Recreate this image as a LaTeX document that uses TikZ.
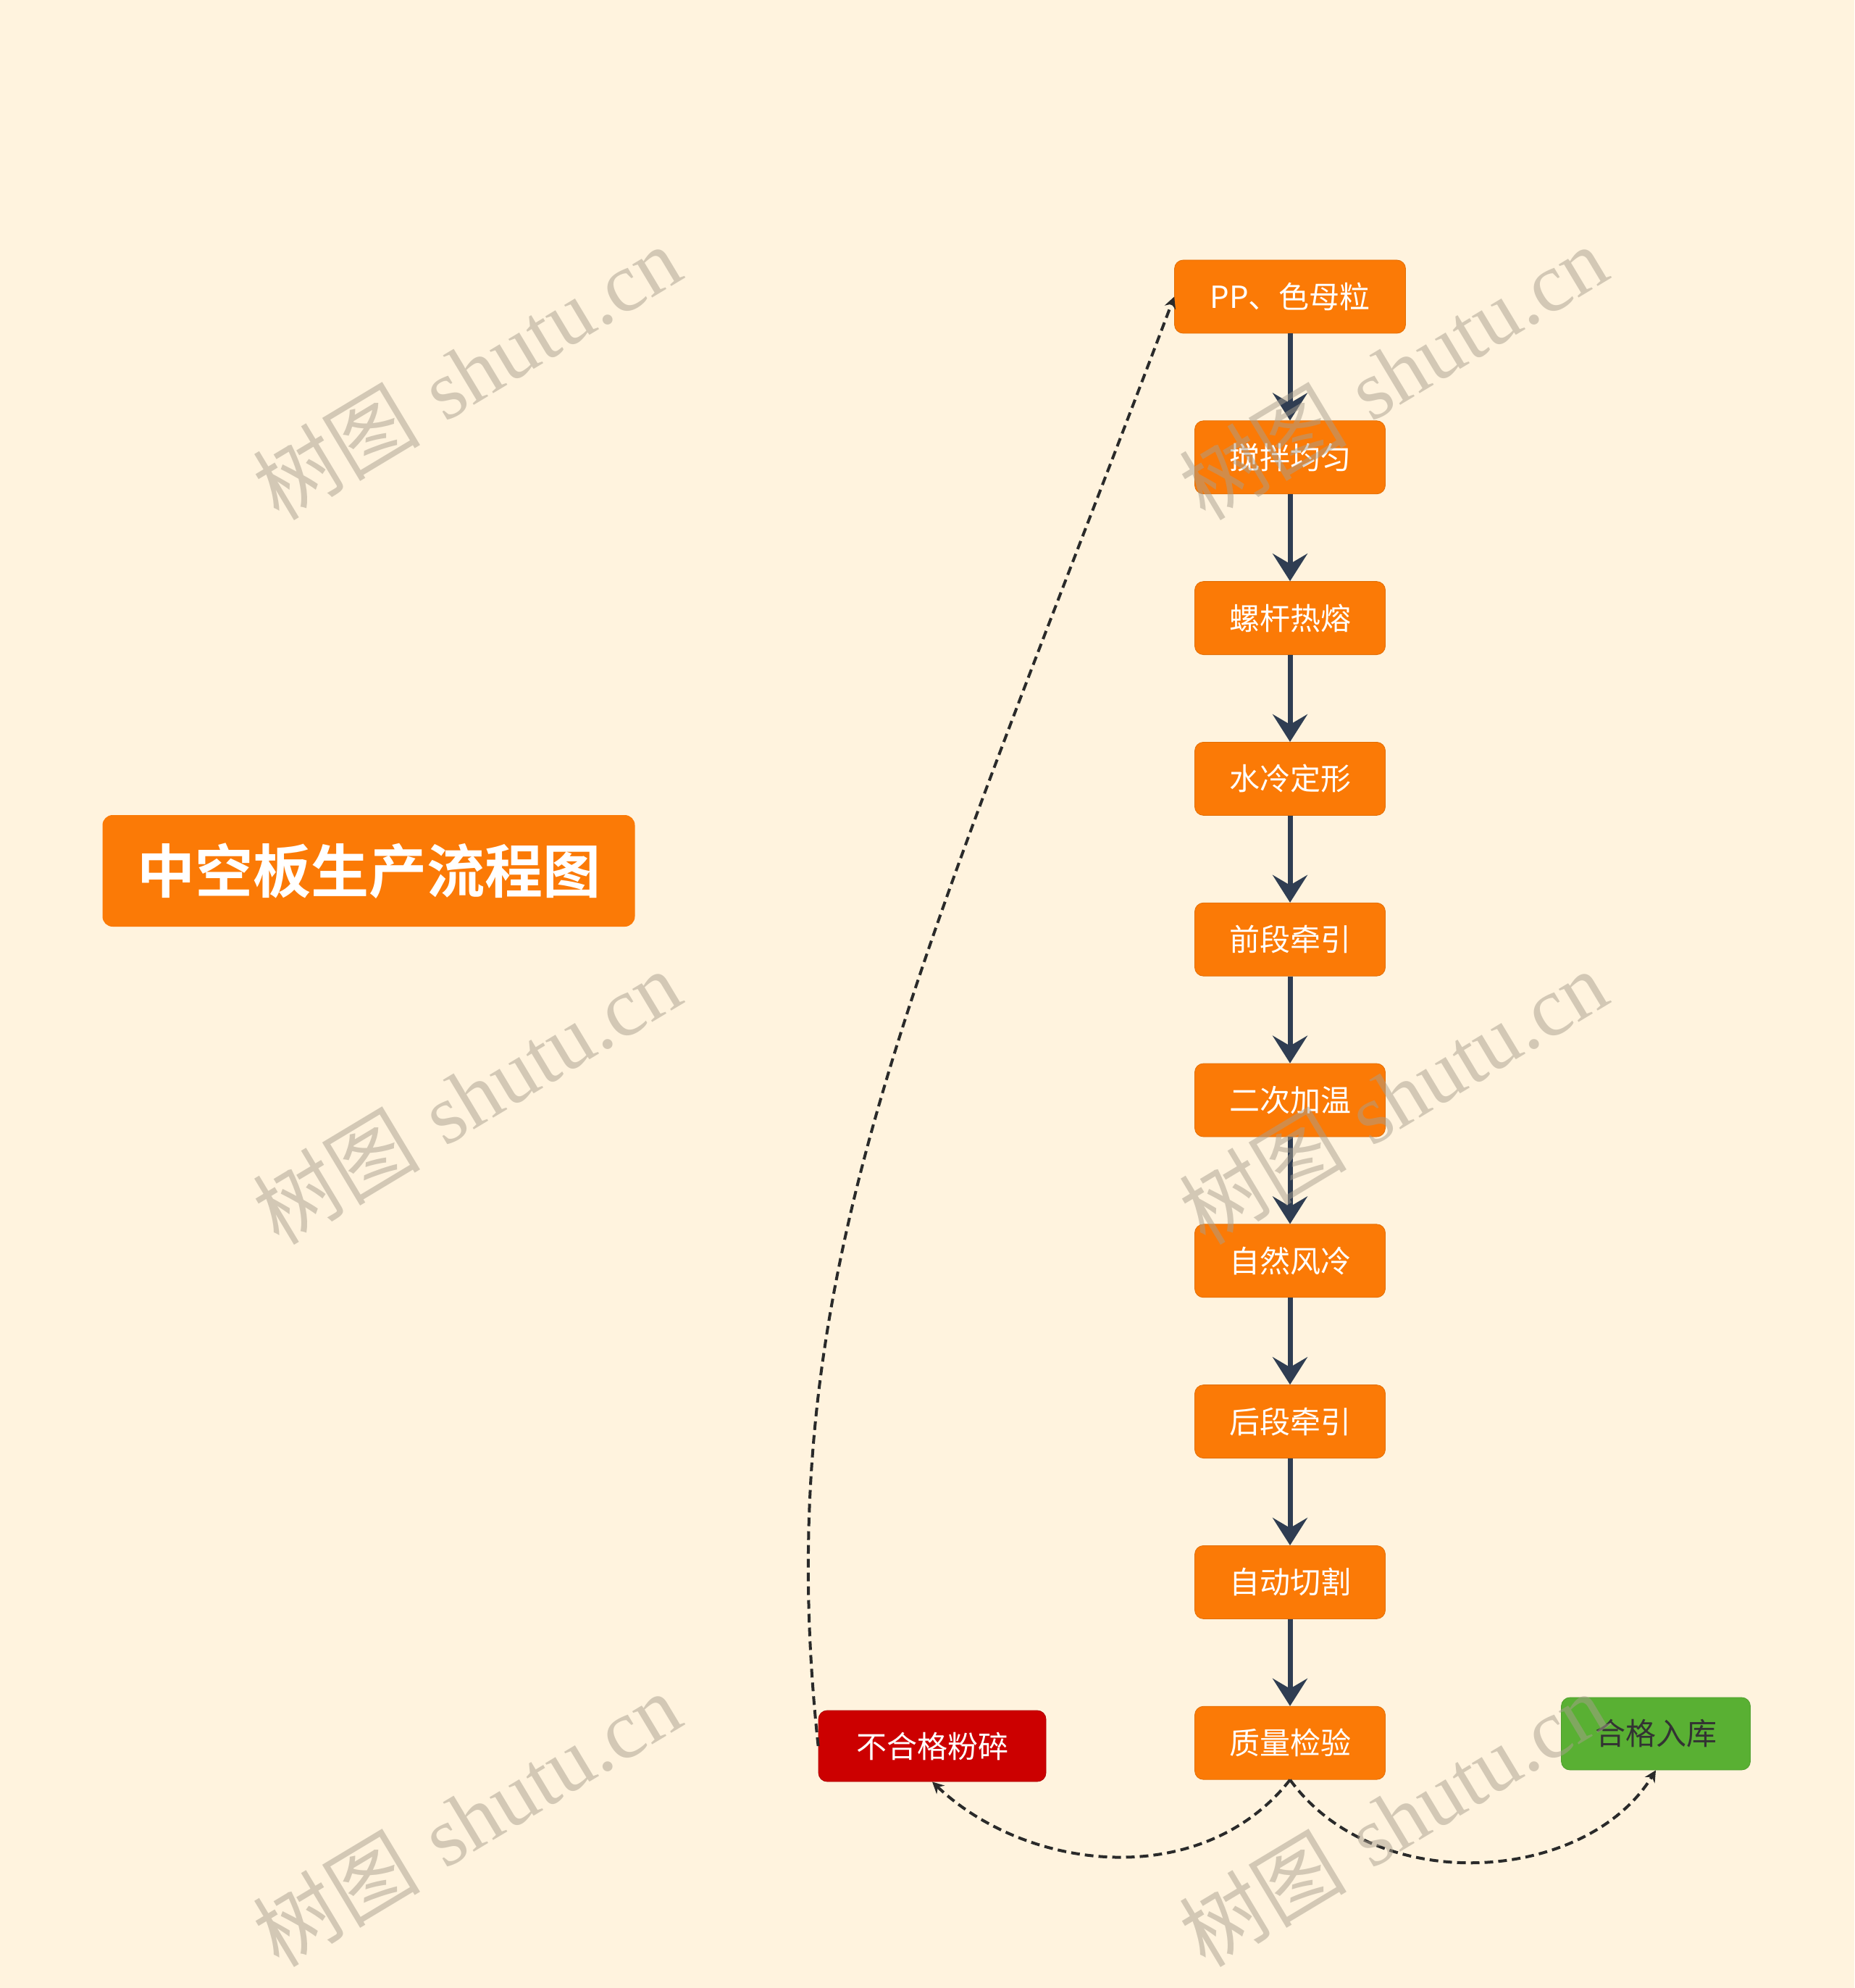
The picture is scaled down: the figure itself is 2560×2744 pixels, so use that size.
\documentclass[tikz,border=0pt]{standalone}
\usepackage{fontspec}
\newfontfamily\cjk{Noto Sans CJK SC}[BoldFont={Noto Sans CJK SC Bold}]
\newfontfamily\wmfont{Liberation Serif}
\usetikzlibrary{arrows.meta}
\definecolor{bg}{HTML}{FFF3DE}
\definecolor{boxorange}{HTML}{FB7A06}
\definecolor{boxred}{HTML}{CC0000}
\definecolor{boxgreen}{HTML}{59B033}
\definecolor{flow}{HTML}{2F3D52}
\definecolor{dash}{HTML}{2A2A2A}
\definecolor{wm}{HTML}{A89F8E}
\tikzset{
  procbox/.style={rectangle, rounded corners=6pt, fill=boxorange, draw=boxorange!90!black, line width=0.4pt,
    text=white, font=\cjk\fontsize{21pt}{24pt}\selectfont,
    minimum width=131.5pt, minimum height=50.5pt, inner sep=0pt},
  flowarrow/.style={draw=flow, line width=3.5pt, -{Stealth[length=19pt,width=24pt,inset=7pt]}, shorten >=0pt},
  loop/.style={draw=dash, line width=2pt, dash pattern=on 6pt off 3.5pt, -{Stealth[length=8pt,width=8pt]}},
  wmark/.style={rotate=31, text=wm, text opacity=0.5, font=\fontsize{58pt}{66pt}\selectfont, inner sep=0pt}
}
\begin{document}
\begin{tikzpicture}[x=0.5pt, y=-0.5pt]
\fill[bg] (0,0) rectangle (2560,2744);
\useasboundingbox (0,0) rectangle (2560,2744);

% title
\node[rectangle, rounded corners=7pt, fill=boxorange, text=white, minimum width=367.5pt, minimum height=77pt, inner sep=0pt,
  font=\cjk\bfseries\fontsize{40pt}{44pt}\selectfont] (title) at (509,1202) {中空板生产流程图};

% process chain
\node[procbox, minimum width=159.5pt] (n1) at (1781,409.5) {PP、色母粒};
\node[procbox] (n2) at (1781,631.3) {搅拌均匀};
\node[procbox] (n3) at (1781,853.1) {螺杆热熔};
\node[procbox] (n4) at (1781,1074.9) {水冷定形};
\node[procbox] (n5) at (1781,1296.7) {前段牵引};
\node[procbox] (n6) at (1781,1518.5) {二次加温};
\node[procbox] (n7) at (1781,1740.3) {自然风冷};
\node[procbox] (n8) at (1781,1962.1) {后段牵引};
\node[procbox] (n9) at (1781,2183.9) {自动切割};
\node[procbox] (qc) at (1781,2405.7) {质量检验};

\node[procbox, fill=boxred, draw=boxred!85!black, minimum width=157pt, minimum height=49pt] (bad) at (1287,2410) {不合格粉碎};
\node[procbox, fill=boxgreen, draw=boxgreen!90!black, text=black!80, minimum width=130.5pt, minimum height=50pt] (good) at (2286,2393) {合格入库};

\foreach \a/\b in {n1/n2,n2/n3,n3/n4,n4/n5,n5/n6,n6/n7,n7/n8,n8/n9,n9/qc}
  \draw[flowarrow] (\a.south) -- (\b.north);

% dashed connectors
\draw[loop] (qc.south) .. controls (1660,2610) and (1420,2585) .. (bad.south);
\draw[loop] (qc.south) .. controls (1900,2620) and (2190,2600) .. (good.south);
\draw[loop] (bad.west) .. controls (1060,1760) and (1260,1365) .. (n1.west);

% watermarks
\foreach \x/\y in {644/514, 644/1514, 644/2511, 1923/514, 1923/1514, 1923/2511}
  \node[wmark] at (\x,\y) {{\cjk 树图} {\wmfont shutu.cn}};
\end{tikzpicture}
\end{document}
